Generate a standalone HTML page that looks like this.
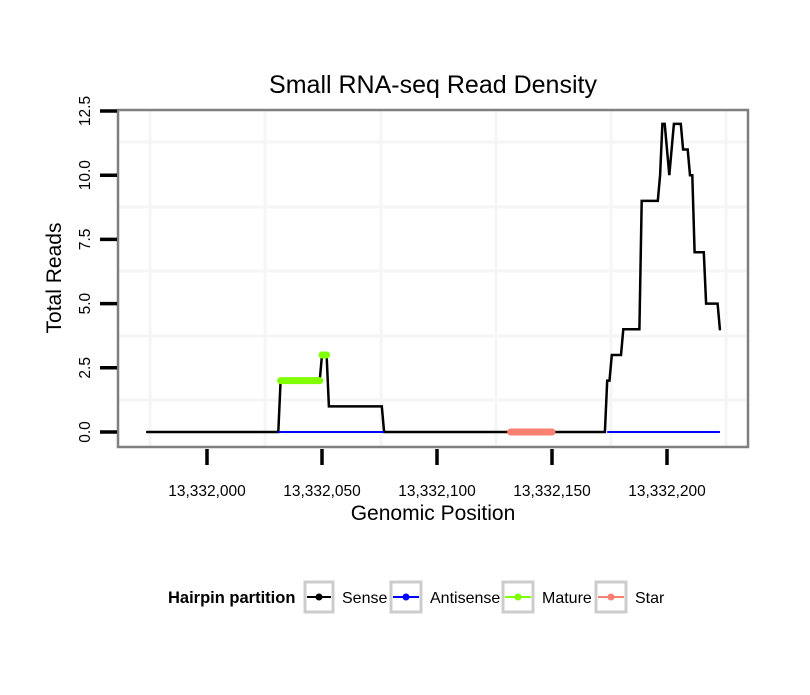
<!DOCTYPE html>
<html><head><meta charset="utf-8"><style>
body{margin:0;background:#fff;}
svg text{font-family:"Liberation Sans",sans-serif;}
</style></head><body>
<svg width="810" height="690" viewBox="0 0 810 690" xmlns="http://www.w3.org/2000/svg">
<script>
const base = 13332000;
const sensePos = [-26,31,32,49,50,52,53,76,77,173,174,175,176,180,181,188,189,196,197,198,199,201,203,206,207,209,210,211,212,216,217,222,223];
const senseVal = [0,0,2,2,3,3,1,1,0,0,2,2,3,3,4,4,9,9,10,12,12,10,12,12,11,11,10,10,7,7,5,5,4];
const antiSegments = [[31,77],[174,223]];
const maturePos1 = [32,49]; const matureVal1 = [2,2];
const maturePos2 = [50,52]; const matureVal2 = [3,3];
const starPos = [132,150]; const starVal = [0,0];
const xTicks = [13332000,13332050,13332100,13332150,13332200];
const xTickLabels = ["13,332,000","13,332,050","13,332,100","13,332,150","13,332,200"];
const yTicks = [0,2.5,5,7.5,10,12.5];
const yTickLabels = ["0.0","2.5","5.0","7.5","10.0","12.5"];
</script>
<text x="433" y="93" text-anchor="middle" font-size="25">Small RNA-seq Read Density</text>
<rect x="118" y="110" width="630" height="337" fill="#fff"/>
<g id="grid"></g>
<g id="series"></g>
<rect x="118" y="110" width="630" height="337" fill="none" stroke="#7f7f7f" stroke-width="2.5"/>
<g id="axes"></g>
<text x="433" y="520" text-anchor="middle" font-size="21">Genomic Position</text>
<text transform="translate(61,278) rotate(-90)" text-anchor="middle" font-size="21">Total Reads</text>
<g font-size="16">
<text x="168" y="603" font-weight="bold" font-size="16.5">Hairpin partition</text>
<g><rect x="305" y="582" width="28" height="30" fill="#fff" stroke="#ccc" stroke-width="3"/><line x1="307" y1="597" x2="331" y2="597" stroke="#000" stroke-width="2"/><circle cx="319" cy="597" r="3.5" fill="#000"/><text x="342" y="603">Sense</text></g>
<g><rect x="391" y="582" width="30" height="30" fill="#fff" stroke="#ccc" stroke-width="3"/><line x1="393" y1="597" x2="419" y2="597" stroke="#00f" stroke-width="2"/><circle cx="406" cy="597" r="3.5" fill="#00f"/><text x="430" y="603">Antisense</text></g>
<g><rect x="503" y="582" width="30" height="30" fill="#fff" stroke="#ccc" stroke-width="3"/><line x1="505" y1="597" x2="531" y2="597" stroke="#7fff00" stroke-width="2"/><circle cx="518" cy="597" r="3.5" fill="#7fff00"/><text x="542" y="603">Mature</text></g>
<g><rect x="596" y="582" width="30" height="30" fill="#fff" stroke="#ccc" stroke-width="3"/><line x1="598" y1="597" x2="624" y2="597" stroke="#fa8072" stroke-width="2"/><circle cx="611" cy="597" r="3.5" fill="#fa8072"/><text x="635" y="603">Star</text></g>
</g>
<script>
const NS = "http://www.w3.org/2000/svg";
const xs = p => 207 + (p - base) * 2.3;
const xr = r => 207 + r * 2.3;
const ys = v => 432 - v * 25.68;
function mk(tag, attrs, parent){const e=document.createElementNS(NS,tag);for(const k in attrs)e.setAttribute(k,attrs[k]);parent.appendChild(e);return e;}
const grid = document.getElementById('grid');
[142,207,271,336,400].forEach(y=>{
  const l = mk('line',{x1:119,x2:747,y1:y,y2:y,stroke:'#f5f5f5','stroke-width':3},grid);
  
  
});
[150,265,381,496,611,726].forEach(x=>{
  const l = mk('line',{x1:x,x2:x,y1:111,y2:446,stroke:'#f5f5f5','stroke-width':3},grid);
  
  
});
const series = document.getElementById('series');
function poly(pos, vals, color, w, name){
  const pts = pos.map((p,i)=>xr(p)+','+ys(vals[i])).join(' ');
  const e = mk('polyline',{points:pts,fill:'none',stroke:color,'stroke-width':w,'stroke-linejoin':'miter','stroke-linecap':'round'},series);
  
  
}
poly(sensePos, senseVal, '#000', 2.5, 'sense-line');
antiSegments.forEach(s=>{
  const e = mk('line',{x1:xr(s[0]),x2:xr(s[1]),y1:ys(0),y2:ys(0),stroke:'#00f','stroke-width':2},series);
  
  
});
poly(maturePos1, matureVal1, '#7fff00', 7, 'mature-line');
poly(maturePos2, matureVal2, '#7fff00', 7, 'mature-line');
poly(starPos, starVal, '#fa8072', 7, 'star-line');
const axes = document.getElementById('axes');
xTicks.forEach((t,i)=>{
  const l = mk('line',{x1:xs(t),x2:xs(t),y1:449,y2:465,stroke:'#000','stroke-width':3.5},axes);
  
  
  const tx = mk('text',{x:xs(t),y:496,'text-anchor':'middle','font-size':15.5},axes);
  tx.textContent = xTickLabels[i];
  
  
});
yTicks.forEach((t,i)=>{
  const l = mk('line',{x1:100,x2:117,y1:ys(t),y2:ys(t),stroke:'#000','stroke-width':3.5},axes);
  
  
  const tx = mk('text',{transform:'translate(90,'+ys(t)+') rotate(-90)','text-anchor':'middle','font-size':15.5},axes);
  tx.textContent = yTickLabels[i];
  
  
});
</script>
</svg>
</body></html>
